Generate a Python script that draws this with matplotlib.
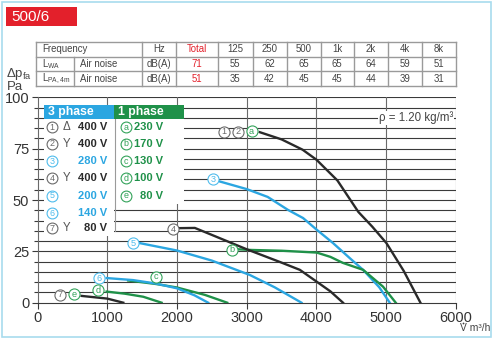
import matplotlib
matplotlib.use("Agg")
import matplotlib.pyplot as plt
from matplotlib.patches import Rectangle
from matplotlib import font_manager

W, H = 500, 341

# ---- noise table ----
freq_labels = ["125", "250", "500", "1k", "2k", "4k", "8k"]
lwa_total = 71
lwa_values = [55, 62, 65, 65, 64, 59, 51]
lpa_total = 51
lpa_values = [35, 42, 45, 45, 44, 39, 31]

# ---- fan curves: airflow (m3/h) vs. static pressure (Pa) ----
c12a_x = [3188, 3500, 3800, 4000, 4300, 4600, 4800, 5003, 5250, 5490]
c12a_y = [83, 79.5, 74.5, 69.6, 59.5, 44.2, 37, 29, 15.5, 0]
c3_x = [2615, 3000, 3300, 3590, 3808, 4004, 4238, 4500, 4668, 4900, 5050]
c3_y = [59, 55.3, 51.5, 45.2, 41.2, 35.5, 29, 21, 16, 7.5, 0]
cb_x = [2877, 3044, 3500, 4004, 4200, 4377, 4668, 4954, 5136]
cb_y = [26, 25.7, 25.3, 24.4, 22.3, 19.4, 16, 7.8, 0]
c4_x = [2041, 2256, 2500, 3000, 3500, 3761, 4004, 4200, 4380]
c4_y = [36.3, 36.4, 33, 26, 19.5, 16, 10.2, 5.5, 0]
c5_x = [1468, 2000, 2500, 3044, 3400, 3785]
c5_y = [29, 25.4, 20.5, 13.5, 7.5, 0]
c6_x = [991, 1372, 1700, 2000, 2250, 2447]
c6_y = [12, 11, 9.3, 7, 3.6, 0]
cc_x = [1300, 1700, 2000, 2400, 2720]
cc_y = [10.8, 9.1, 7.4, 3.8, 0]
cd_x = [991, 1250, 1516, 1779]
cd_y = [5.4, 4.4, 2.9, 0]
c7_x = [633, 1000, 1230]
c7_y = [3.3, 2.0, 0]

BLACK = "#2a2a2a"
BLUE = "#2ba6e1"
GREEN = "#1f9149"
RED = "#e3202b"
GRAY_TXT = "#6a6a6a"
LBLUE = "#4fbcec"
LGREEN = "#33a35a"


def has_font(name):
    try:
        font_manager.findfont(name, fallback_to_default=False)
        return True
    except Exception:
        return False


MAIN_FONT = "Liberation Sans"
if has_font("Liberation Sans Narrow"):
    NARROW, TFS = "Liberation Sans Narrow", 7.6
else:
    NARROW, TFS = "Liberation Sans", 6.9
plt.rcParams["font.family"] = [MAIN_FONT, "DejaVu Sans"]
plt.rcParams["mathtext.fontset"] = "custom"
plt.rcParams["mathtext.rm"] = MAIN_FONT

fig = plt.figure(figsize=(W / 100, H / 100), dpi=100)

# main chart axes (pixel box: x 37.5..456, y 97.3..302.7)
x0, x1, yt, yb = 37.5, 456.0, 97.3, 302.7
ax = fig.add_axes([x0 / W, 1 - yb / H, (x1 - x0) / W, (yb - yt) / H])
ax.set_xlim(0, 6000)
ax.set_ylim(0, 100)
ax.set_xticks(range(0, 6001, 1000))
ax.set_yticks(range(0, 101, 25))
ax.set_yticks(range(0, 101, 5), minor=True)
for y in range(5, 101, 5):
    ax.axhline(y, color="#3a3a3a", lw=0.8, zorder=1)
for x in range(1000, 6001, 1000):
    ax.axvline(x, color="#6a6a6a", lw=0.8, zorder=1)
for side in ["top", "right"]:
    ax.spines[side].set_visible(False)
ax.spines["left"].set_color("#6a6a6a")
ax.spines["bottom"].set_color("#3a3a3a")
ax.spines["left"].set_linewidth(0.8)
ax.spines["bottom"].set_linewidth(0.8)
ax.tick_params(axis="both", which="major", labelsize=10.5, colors="#3a3a3a",
               length=4, width=0.8, pad=2)
ax.tick_params(axis="y", which="minor", length=3, width=0.8, color="#3a3a3a")
ax.tick_params(axis="x", which="major", pad=2)
for lbl in ax.get_xticklabels() + ax.get_yticklabels():
    lbl.set_color("#333333")

lw = 1.7
ax.plot(c12a_x, c12a_y, color=BLACK, lw=lw, zorder=4)
ax.plot(c3_x, c3_y, color=BLUE, lw=lw, zorder=4)
ax.plot(cb_x, cb_y, color=GREEN, lw=lw, zorder=4)
ax.plot(c4_x, c4_y, color=BLACK, lw=lw, zorder=4)
ax.plot(c5_x, c5_y, color=BLUE, lw=lw, zorder=4)
ax.plot(cc_x, cc_y, color=GREEN, lw=lw, zorder=4)
ax.plot(c6_x, c6_y, color=BLUE, lw=lw, zorder=5)
ax.plot(cd_x, cd_y, color=GREEN, lw=lw, zorder=4)
ax.plot(c7_x, c7_y, color=BLACK, lw=lw, zorder=4)


def circled(target, x, y, ch, color, ms=8.0, fs=6.6):
    target.plot([x], [y], marker="o", ms=ms, mfc="white", mec=color, mew=0.8,
                zorder=8, clip_on=False)
    target.text(x, y, ch, color=color, fontsize=fs, ha="center", va="center",
                zorder=9, clip_on=False)


# curve labels
circled(ax, 2672, 83.3, "1", GRAY_TXT)
circled(ax, 2872, 83.3, "2", GRAY_TXT)
circled(ax, 3069, 83.4, "a", LGREEN)
circled(ax, 2519, 60.2, "3", LBLUE)
circled(ax, 1946, 35.8, "4", GRAY_TXT)
circled(ax, 1372, 29.0, "5", LBLUE)
circled(ax, 2791, 25.7, "b", LGREEN)
circled(ax, 885, 11.9, "6", LBLUE)
circled(ax, 1693, 12.7, "c", LGREEN)
circled(ax, 871, 6.0, "d", LGREEN)
circled(ax, 523, 4.2, "e", LGREEN)
circled(ax, 322, 3.8, "7", GRAY_TXT)

ax.text(5960, 90, "ρ = 1.20 kg/m³", ha="right", va="center", fontsize=8.3,
        color="#444444", zorder=6,
        bbox=dict(facecolor="white", edgecolor="none", pad=0.6))

# overlay in pixel coordinates for frame, table and legend
ov = fig.add_axes([0, 0, 1, 1])
ov.set_xlim(0, W)
ov.set_ylim(H, 0)
ov.axis("off")
ov.patch.set_visible(False)

# outer frame
ov.add_patch(Rectangle((2, 2), 489, 335, fill=False, ec="#a8dcee", lw=1.2))
# model tag
ov.add_patch(Rectangle((6, 6.7), 71, 19.3, fc=RED, ec="none"))
ov.text(11.5, 16.6, "500/6", color="white", fontsize=11, ha="left", va="center")

# noise table
tc = "#9a9a9a"
ttxt = "#444444"
ty = [41.7, 56.7, 71.0, 86.0]
tx = [36, 142.3, 176, 218.3, 252.5, 286.7, 320.5, 354, 387.7, 421.7, 456]
for y in ty:
    ov.plot([tx[0], tx[-1]], [y, y], color=tc, lw=1.0)
for x in tx:
    ov.plot([x, x], [ty[0], ty[-1]], color=tc, lw=1.0)
ov.plot([74, 74], [ty[1], ty[-1]], color=tc, lw=1.0)
rows_c = [(ty[i] + ty[i + 1]) / 2 for i in range(3)]
ov.text(42, rows_c[0], "Frequency", fontsize=TFS, family=NARROW, color=ttxt, va="center")
col_c = [(tx[i] + tx[i + 1]) / 2 for i in range(1, len(tx) - 1)]
ov.text(col_c[0], rows_c[0], "Hz", fontsize=TFS, family=NARROW, color=ttxt, ha="center", va="center")
ov.text(col_c[1], rows_c[0], "Total", fontsize=TFS, family=NARROW, color=RED, ha="center", va="center")
for c, f in zip(col_c[2:], freq_labels):
    ov.text(c, rows_c[0], f, fontsize=TFS, family=NARROW, color=ttxt, ha="center", va="center")
for r, sub, tot, vals in [(rows_c[1], "WA", lwa_total, lwa_values),
                          (rows_c[2], "PA,4m", lpa_total, lpa_values)]:
    ov.text(42.5, r, "L$_\\mathregular{%s}$" % sub, fontsize=TFS, family=NARROW,
            color=ttxt, va="center")
    ov.text(80, r, "Air noise", fontsize=TFS, family=NARROW, color=ttxt, va="center")
    ov.text(col_c[0], r, "dB(A)", fontsize=TFS, family=NARROW, color=ttxt, ha="center", va="center")
    ov.text(col_c[1], r, str(tot), fontsize=TFS, family=NARROW, color=RED, ha="center", va="center")
    for c, v in zip(col_c[2:], vals):
        ov.text(c, r, str(v), fontsize=TFS, family=NARROW, color=ttxt, ha="center", va="center")

# axis titles
ov.text(5.5, 73.5, "Δp$_\\mathregular{fa}$", fontsize=9.5, color="#444444", va="center")
ov.text(7, 87, "Pa", fontsize=9.5, color="#444444", va="center")
ov.text(459.5, 328, "V m³/h", fontsize=7.4, color="#444444", va="center")
ov.plot([462.6], [322.6], marker="o", ms=1.3, color="#444444", mec="none")

# legend boxes
ov.add_patch(Rectangle((43.7, 119.3), 70.6, 116.7, fc="white", ec="none", zorder=3))
ov.add_patch(Rectangle((114.3, 119.3), 69.4, 84.7, fc="white", ec="none", zorder=3))
ov.plot([114.6, 114.6], [119.3, 231], color="#9a9a9a", lw=0.8, zorder=4)
ov.add_patch(Rectangle((43.7, 105), 70.6, 14.3, fc=BLUE, ec="none", zorder=4))
ov.add_patch(Rectangle((114.3, 105), 69.7, 14.3, fc=GREEN, ec="none", zorder=4))
ov.text(47.5, 112.3, "3 phase", color="white", fontsize=8.8, fontweight="bold", va="center", zorder=5)
ov.text(117.5, 112.3, "1 phase", color="white", fontsize=8.8, fontweight="bold", va="center", zorder=5)

legend_rows = [127.3, 144, 161, 178.3, 196, 213.3, 228.3]
three_phase = [("1", "Δ", "400 V", BLACK, GRAY_TXT),
               ("2", "Y", "400 V", BLACK, GRAY_TXT),
               ("3", "", "280 V", BLUE, LBLUE),
               ("4", "Y", "400 V", BLACK, GRAY_TXT),
               ("5", "", "200 V", BLUE, LBLUE),
               ("6", "", "140 V", BLUE, LBLUE),
               ("7", "Y", "80 V", BLACK, GRAY_TXT)]
one_phase = [("a", "230 V"), ("b", "170 V"), ("c", "130 V"), ("d", "100 V"), ("e", "80 V")]
for yy, (num, conn, volt, tcol, ccol) in zip(legend_rows, three_phase):
    circled(ov, 52, yy, num, ccol, ms=7.8, fs=6.4)
    if conn:
        ov.text(66.7, yy, conn, fontsize=8.3, color="#555555", ha="center", va="center", zorder=6)
    ov.text(107.5, yy, volt, fontsize=8.0, fontweight="bold", color=tcol, ha="right", va="center", zorder=6)
for yy, (let, volt) in zip(legend_rows, one_phase):
    circled(ov, 126, yy, let, LGREEN, ms=7.8, fs=6.4)
    ov.text(163.5, yy, volt, fontsize=8.0, fontweight="bold", color=GREEN, ha="right", va="center", zorder=6)

fig.savefig("out.png", dpi=100)
